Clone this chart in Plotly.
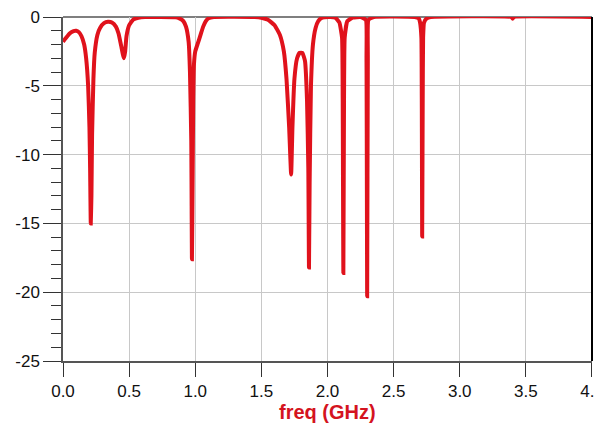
import plotly.graph_objects as go

freq_ghz = [
    0.00, 0.02, 0.05, 0.08, 0.10, 0.12, 0.14, 0.16, 0.175, 0.19, 0.20, 0.205, 0.21, 0.215, 0.22, 0.23, 0.24,
    0.26, 0.28, 0.31, 0.34, 0.37, 0.40, 0.42, 0.44, 0.46, 0.47, 0.48, 0.50, 0.53, 0.57, 0.62,
    0.85, 0.88, 0.91, 0.93, 0.95, 0.96, 0.97, 0.975, 0.98, 0.985, 0.99, 1.00, 1.02, 1.04, 1.06, 1.08, 1.10, 1.14,
    1.45, 1.50, 1.55, 1.60, 1.64, 1.67, 1.69, 1.71, 1.725, 1.735, 1.75, 1.77, 1.79, 1.81, 1.83, 1.845, 1.855,
    1.86, 1.865, 1.875, 1.89, 1.91, 1.93, 1.96, 2.02, 2.06, 2.09, 2.11, 2.115, 2.12, 2.125, 2.13, 2.15, 2.19,
    2.25, 2.29, 2.295, 2.30, 2.305, 2.31, 2.35, 2.66, 2.69, 2.70, 2.71, 2.713, 2.716, 2.72, 2.723, 2.73, 2.75,
    2.78, 3.39, 3.40, 3.41, 4.00,
]
s_db = [
    -1.80, -1.55, -1.20, -1.02, -1.00, -1.10, -1.40, -2.00, -3.00, -5.00, -8.00, -11.0, -15.0, -13.0, -8.5, -4.5, -2.6,
    -1.30, -0.80, -0.45, -0.35, -0.40, -0.70, -1.20, -2.10, -3.00, -2.50, -1.40, -0.60, -0.20, -0.05, 0.0,
    -0.02, -0.10, -0.30, -0.70, -1.80, -4.0, -9.0, -17.6, -12.0, -6.0, -3.5, -2.5, -1.9, -1.3, -0.7, -0.3, -0.1, 0.0,
    0.0, -0.05, -0.20, -0.60, -1.30, -2.50, -4.50, -8.0, -11.45, -8.0, -4.5, -3.0, -2.6, -2.6, -3.2, -6.0, -11.0,
    -18.2, -12.0, -5.0, -2.0, -0.8, -0.3, -0.05, 0.0, -0.05, -0.4, -1.5, -6.0, -18.6, -6.0, -1.5, -0.3, -0.05,
    0.0, -0.2, -3.0, -20.3, -3.0, -0.2, 0.0, 0.0, -0.1, -0.4, -1.5, -6.0, -15.95, -6.0, -1.5, -0.4, -0.1,
    0.0, 0.0, -0.12, 0.0, 0.0,
]

x_tick_vals = [0.0, 0.5, 1.0, 1.5, 2.0, 2.5, 3.0, 3.5, 4.0]
x_tick_text = ["0.0", "0.5", "1.0", "1.5", "2.0", "2.5", "3.0", "3.5", "4.0"]
y_tick_vals = [0, -5, -10, -15, -20, -25]
y_tick_text = ["0", "-5", "-10", "-15", "-20", "-25"]
x_title = "freq (GHz)"

FONT = "Liberation Sans, Arial, sans-serif"

fig = go.Figure()
fig.add_trace(go.Scatter(
    x=freq_ghz, y=s_db, mode="lines",
    line=dict(color="#e0121c", width=4, shape="spline", smoothing=0.4),
    hoverinfo="skip", showlegend=False, cliponaxis=False,
))

# page body has an 8px default margin, so figure coords = page coords - 8
fig.update_layout(
    width=602, height=432,
    margin=dict(l=55, r=18, t=9, b=79, autoexpand=False),
    paper_bgcolor="white", plot_bgcolor="white",
    font=dict(family=FONT, size=17, color="#111111"),
    xaxis=dict(
        range=[0, 4.0001], tickmode="array", tickvals=x_tick_vals, ticktext=x_tick_text,
        showgrid=True, gridcolor="#c8c8c8", gridwidth=1,
        showline=True, linecolor="#555555", linewidth=1.5,
        ticks="outside", ticklen=14, tickcolor="#333333", tickwidth=1.2,
        zeroline=False, automargin=False, ticklabeloverflow="allow",
    ),
    yaxis=dict(
        range=[-25, 0.0001], tickmode="array", tickvals=y_tick_vals, ticktext=y_tick_text,
        showgrid=True, gridcolor="#c8c8c8", gridwidth=1,
        showline=True, linecolor="#555555", linewidth=1.5,
        ticks="outside", ticklen=18, tickcolor="#333333", tickwidth=1.2,
        minor=dict(dtick=1, ticks="outside", ticklen=10, tickcolor="#333333", showgrid=False),
        zeroline=False, automargin=False, ticklabeloverflow="allow",
    ),
    shapes=[
        dict(type="line", xref="paper", yref="paper", x0=1, x1=1, y0=0, y1=1,
             line=dict(color="#000000", width=2), layer="above"),
        dict(type="line", xref="paper", yref="paper", x0=0, x1=1, y0=1, y1=1,
             line=dict(color="#555555", width=1.5), layer="below"),
    ],
    annotations=[
        dict(text=x_title, xref="paper", yref="paper", x=0.5, y=0, yshift=-51,
             xanchor="center", yanchor="middle", showarrow=False,
             font=dict(size=20, color="#d41320", family=FONT, weight="bold")),
    ],
)

fig.write_html("out.html")
